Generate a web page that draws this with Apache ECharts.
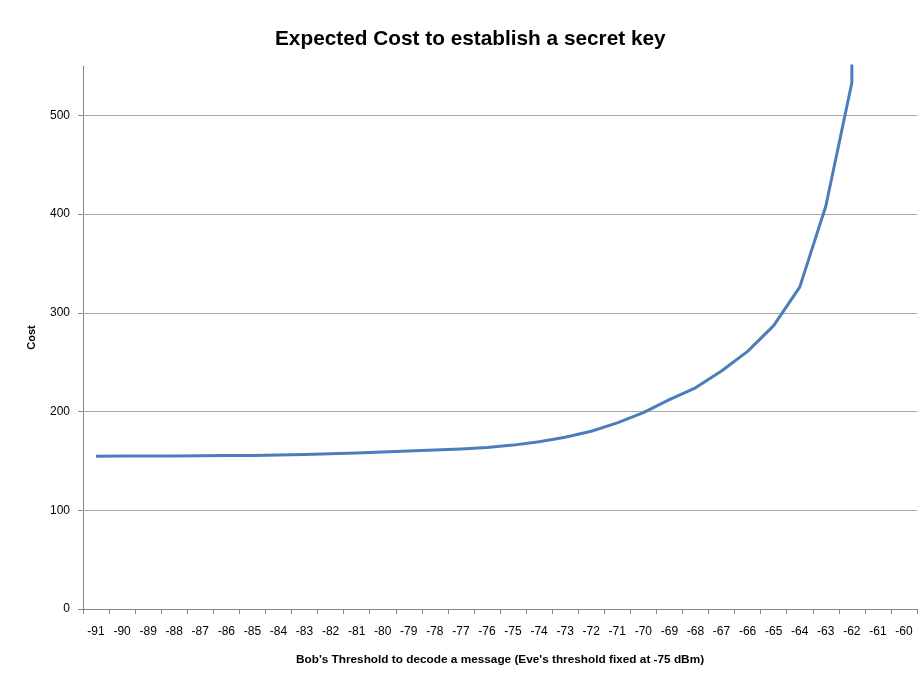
<!DOCTYPE html>
<html>
<head>
<meta charset="utf-8">
<script src="https://cdn.jsdelivr.net/npm/echarts@6/dist/echarts.min.js"></script>
<style>html,body{margin:0;padding:0;background:#fff}#c{width:920px;height:677px}</style>
</head>
<body>
<div id="c"></div>
<script>
var categories = ['-91','-90','-89','-88','-87','-86','-85','-84','-83','-82','-81','-80','-79','-78','-77','-76','-75','-74','-73','-72','-71','-70','-69','-68','-67','-66','-65','-64','-63','-62','-61','-60'];
var costValues = [154.8,154.9,155,155,155.2,155.4,155.6,156,156.5,157.2,158,159,160,161,162,163.5,166,169.5,174,180,188.5,199,212,224,241,261,287,326,408,533,60000,null];
var yTicks = [0,100,200,300,400,500];

var chart = echarts.init(document.getElementById('c'));
chart.setOption({
  animation: false,
  title: {
    text: 'Expected Cost to establish a secret key',
    left: 270, top: 24,
    textStyle: {fontFamily: 'Liberation Sans', fontSize: 20.8, fontWeight: 'bold', color: '#000'}
  },
  grid: {left: 83, right: 3, top: 66, bottom: 68, containLabel: false},
  xAxis: {
    type: 'category',
    data: categories,
    boundaryGap: true,
    name: "Bob's Threshold to decode a message (Eve's threshold fixed at -75 dBm)",
    nameLocation: 'middle', nameGap: 45,
    nameTextStyle: {fontFamily: 'Liberation Sans', fontSize: 11.8, fontWeight: 'bold', color: '#000'},
    axisLine: {lineStyle: {color: '#868686', width: 1}},
    axisTick: {show: true, interval: 0, length: 5, lineStyle: {color: '#868686'}},
    axisLabel: {interval: 0, margin: 17, fontFamily: 'Liberation Sans', fontSize: 12, color: '#000'},
    splitLine: {show: false}
  },
  yAxis: {
    type: 'value',
    min: 0, max: 550, interval: 100,
    name: 'Cost', nameLocation: 'middle', nameGap: 46, nameRotate: 90,
    nameTextStyle: {fontFamily: 'Liberation Sans', fontSize: 11, fontWeight: 'bold', color: '#000'},
    axisLine: {show: true, lineStyle: {color: '#868686', width: 1}},
    axisTick: {show: true, length: 5, customValues: yTicks, lineStyle: {color: '#868686'}},
    axisLabel: {margin: 13, customValues: yTicks, fontFamily: 'Liberation Sans', fontSize: 12, color: '#000'},
    splitLine: {show: false}
  },
  series: [{
    type: 'line',
    data: costValues,
    smooth: false,
    showSymbol: false,
    symbol: 'none',
    clip: true,
    z: 3,
    lineStyle: {color: '#4a7ebb', width: 3, join: 'round'},
    markLine: {
      silent: true,
      symbol: 'none',
      z: 1,
      label: {show: false},
      lineStyle: {color: '#a6a6a6', width: 1, type: 'solid'},
      data: yTicks.slice(1).map(function (v) { return {yAxis: v}; })
    }
  }]
});
</script>
</body>
</html>
